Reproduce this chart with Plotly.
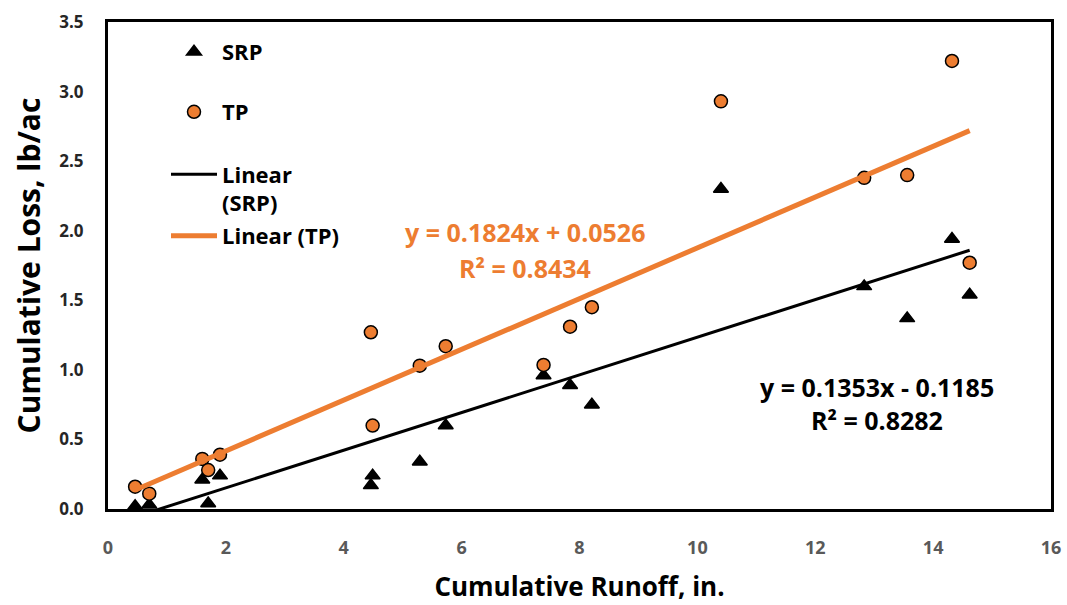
import plotly.graph_objects as go

# Cumulative runoff (in.) and cumulative P losses (lb/ac) per event
runoff_in = [0.46, 0.70, 1.60, 1.70, 1.90, 4.46, 4.49, 5.29, 5.73, 7.39, 7.84, 8.21,
             10.40, 12.83, 13.56, 14.32, 14.62]
srp_lb_ac = [0.02, 0.03, 0.21, 0.04, 0.24, 0.17, 0.24, 0.34, 0.60, 0.96, 0.89, 0.75,
             2.30, 1.60, 1.37, 1.94, 1.54]
tp_lb_ac = [0.16, 0.11, 0.36, 0.28, 0.39, 1.27, 0.60, 1.03, 1.17, 1.035, 1.31, 1.45,
            2.93, 2.38, 2.40, 3.22, 1.77]

# Linear trendline coefficients: slope, intercept, R²
srp_slope, srp_intercept, srp_r2 = 0.1353, -0.1185, 0.8282
tp_slope, tp_intercept, tp_r2 = 0.1824, 0.0526, 0.8434

x_ticks = [0, 2, 4, 6, 8, 10, 12, 14, 16]
y_ticks = [0.0, 0.5, 1.0, 1.5, 2.0, 2.5, 3.0, 3.5]

ORANGE = "#ED7D31"
FONT = "Open Sans"

W, H = 1067, 605
M_L, M_R, M_T, M_B = 108, 16, 22, 96

fit_x = [min(runoff_in), max(runoff_in)]
srp_fit_y = [srp_slope * x + srp_intercept for x in fit_x]
tp_fit_y = [tp_slope * x + tp_intercept for x in fit_x]

fig = go.Figure()

fig.add_trace(go.Scatter(
    x=runoff_in, y=srp_lb_ac, mode="markers", name="SRP", legend="legend",
    marker=dict(symbol="triangle-up", size=13, color="black",
                line=dict(color="black", width=1.5)),
))
fig.add_trace(go.Scatter(
    x=runoff_in, y=tp_lb_ac, mode="markers", name="TP", legend="legend2",
    marker=dict(symbol="circle", size=13, color=ORANGE,
                line=dict(color="black", width=1.5)),
))
fig.add_trace(go.Scatter(
    x=fit_x, y=srp_fit_y, mode="lines", name="Linear<br>(SRP)", legend="legend3",
    line=dict(color="black", width=3),
))
fig.add_trace(go.Scatter(
    x=fit_x, y=tp_fit_y, mode="lines", name="Linear (TP)", legend="legend4",
    line=dict(color=ORANGE, width=5),
))


def fmt_eq(slope, intercept):
    sign = "+" if intercept >= 0 else "-"
    return f"y = {slope:.4f}x {sign} {abs(intercept):.4f}"


EQ_SIZE = 25
annotations = [
    dict(x=7.07, y=1.99, text=fmt_eq(tp_slope, tp_intercept),
         font=dict(color=ORANGE, size=EQ_SIZE, family=FONT, weight="bold")),
    dict(x=7.07, y=1.73, text=f"R² = {tp_r2:.4f}",
         font=dict(color=ORANGE, size=EQ_SIZE, family=FONT, weight="bold")),
    dict(x=13.05, y=0.88, text=fmt_eq(srp_slope, srp_intercept),
         font=dict(color="black", size=EQ_SIZE, family=FONT, weight="bold")),
    dict(x=13.05, y=0.64, text=f"R² = {srp_r2:.4f}",
         font=dict(color="black", size=EQ_SIZE, family=FONT, weight="bold")),
]
for a in annotations:
    a.update(xref="x", yref="y", showarrow=False, xanchor="center", yanchor="middle")


def legend_at(px_x, px_y):
    # pixel position inside the plot area converted to paper coordinates
    return dict(
        x=(px_x - M_L) / (W - M_L - M_R),
        y=(H - M_B - px_y) / (H - M_T - M_B),
        xref="paper", yref="paper",
        xanchor="left", yanchor="middle", bgcolor="rgba(0,0,0,0)",
        font=dict(family=FONT, size=22, color="black", weight="bold"),
        itemwidth=46, valign="top", borderwidth=0,
    )


fig.update_layout(
    width=W, height=H,
    margin=dict(l=M_L, r=M_R, t=M_T, b=M_B, autoexpand=False),
    paper_bgcolor="white", plot_bgcolor="white",
    showlegend=True,
    legend=legend_at(166, 52),
    legend2=legend_at(166, 112),
    legend3=legend_at(166, 189),
    legend4=legend_at(166, 236),
    annotations=annotations,
    font=dict(family=FONT),
)

fig.update_xaxes(
    range=[0, 16], tickvals=x_ticks, ticktext=[str(v) for v in x_ticks],
    showgrid=False, zeroline=False,
    showline=True, linecolor="black", linewidth=3, mirror=True,
    ticks="", ticklabelstandoff=20,
    tickfont=dict(family=FONT, size=18, color="#595959", weight="bold"),
    title=dict(text="Cumulative Runoff, in.", standoff=21,
               font=dict(family=FONT, size=26, color="black", weight="bold")),
)
fig.update_yaxes(
    range=[0, 3.5], tickvals=y_ticks, ticktext=[f"{v:.1f}" for v in y_ticks],
    showgrid=False, zeroline=False,
    showline=True, linecolor="black", linewidth=3, mirror=True,
    ticks="", ticklabelstandoff=18,
    tickfont=dict(family=FONT, size=17, color="#262626", weight="bold"),
    title=dict(text="Cumulative Loss, lb/ac", standoff=10,
               font=dict(family=FONT, size=30, color="black", weight="bold")),
)

fig.write_html("out.html")
